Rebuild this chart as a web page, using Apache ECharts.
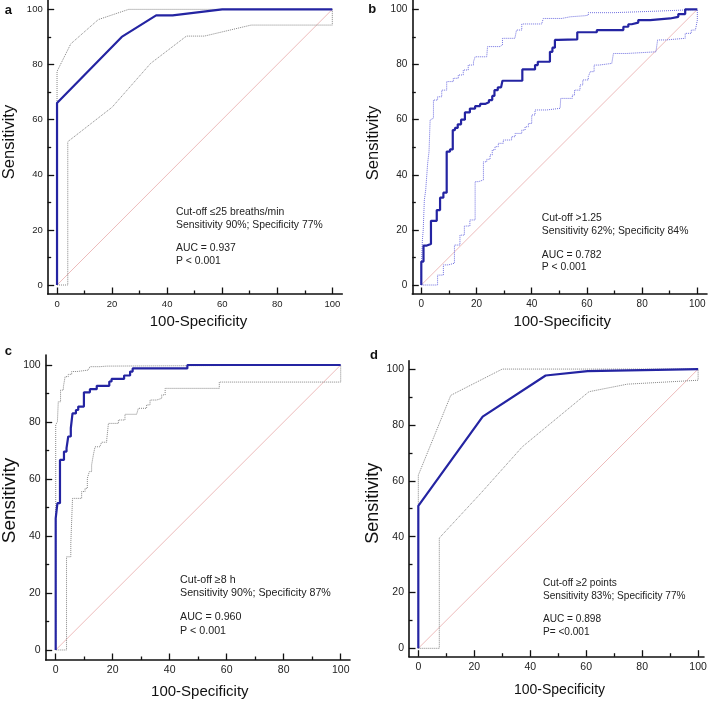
<!DOCTYPE html>
<html>
<head>
<meta charset="utf-8">
<script src="https://cdn.jsdelivr.net/npm/echarts@6/dist/echarts.min.js"></script>
<style>html,body{margin:0;padding:0;background:#fff}#chart{width:708px;height:701px}</style>
</head>
<body>
<div id="chart"></div>
<script>
// ---------- data (x = 100-Specificity, y = Sensitivity) ----------
var majorTicks = [0, 20, 40, 60, 80, 100];
var minorTicks = [10, 30, 50, 70, 90];
var diagonal = [[0, 0], [100, 100]];

// panel a (polyline)
var aRoc   = [[0,0],[0,66],[23.5,90],[36,97.8],[42,97.8],[60,100],[100,100]];
var aUpper = [[0,0],[0,77.5],[5,87.5],[15,96.3],[26,100],[100,100]];
var aLower = [[0,0],[3.9,0],[3.9,52],[20,64.5],[34,80.4],[47,90.3],[53.5,90.3],[70.5,94.3],[100,94.3],[100,100]];

// panel b (step vertices: horizontal then vertical)
var bRoc = [[0,0],[0,8.5],[0.8,14.3],[2,14.9],[3.5,23.3],[5.6,27.2],[6.8,31.7],[8,33.5],[9.2,48.4],[10.4,49.2],
  [11.4,56.2],[12.2,57],[13.2,58.3],[14.4,60],[15.8,62.6],[17.6,64],[19.5,64.9],[21.3,65.7],[23.1,66.3],[24.5,67.1],
  [25.7,68.6],[26.5,70.7],[27.7,71.7],[28.9,72.2],[29.4,74.1],[36.6,78.2],[41.2,79.8],[42.2,81],[46.6,84.6],[47.5,86.1],
  [48.4,88.9],[49.6,89.1],[56.5,91.7],[63.6,92.5],[73.2,93.7],[75,94.6],[76.2,95.2],[78.6,96.1],[82.9,96.7],[90.1,97.3],
  [93.1,98.3],[95.6,100],[100,100]];
var bUpper = [[0,0],[0.1,9],[0.4,16.3],[0.7,20],[1.1,30.8],[1.6,34.5],[2.3,44.1],[2.8,48.4],[3.2,59.9],[3.5,60.5],
  [4.4,67.1],[5.9,68.3],[7.4,70.7],[9.2,73.8],[11.6,75],[13.4,76.2],[15.2,78],[17,79.8],[18.9,81],[19.5,82.8],
  [23.7,83.4],[24,86.5],[28.5,87.1],[29.4,89.5],[33.9,90.1],[34.5,92.5],[36.4,94.7],[43.6,94.9],[44.2,96.7],[50.9,97.3],
  [53.9,97.7],[59.3,97.9],[60.5,98.8],[68.4,98.8],[69.6,99.4],[86.5,99.8],[96.1,100],[100,100]];
var bLower = [[0,0],[5.9,3.6],[8,7.3],[9.8,7.9],[12,14.5],[14,18.1],[15.6,21.4],[17.6,23.6],[19.5,37.5],[20.7,38.1],
  [22.5,44.7],[23.7,45.6],[24.9,47.2],[25.7,49],[26.7,50.2],[27.9,51.4],[29.7,52.6],[32.7,53.8],[34,55],[36.4,56.2],
  [37.6,57.4],[38.8,58.6],[40,61.7],[41.2,63.5],[45.4,64.1],[50.3,64.7],[50.5,67.7],[54.7,68.9],[55.5,70.7],[57.5,72.6],
  [58.5,74.4],[60.5,75.6],[61.2,77.4],[62.6,79.8],[64.5,80.4],[69,81],[69.6,84],[74.5,84.6],[85,85.2],[85.6,88.9],
  [88.5,89.5],[95.6,91.3],[97.8,92.5],[99.3,93.1],[100,96.1],[100,100]];

// panel c (step vertices)
var cRoc = [[0,0],[0,46.2],[0.6,51.5],[1.5,66.7],[2.9,69.6],[3.8,70.8],[4.4,74.9],[5.3,77.8],[5.9,83],[7.1,84.2],
  [7.9,85.4],[9.9,90.4],[12,91.5],[14.4,92.7],[18.8,94.2],[19.6,95.1],[24,96.3],[26.1,97.7],[27,98.8],[46.2,100],[100,100]];
var cUpper = [[0,0],[0,79],[0.6,80.1],[0.9,87.1],[1.7,91.2],[2.7,92.4],[3.3,95.9],[4.4,96.7],[5.6,97.7],[7.4,98.2],
  [11.4,98.6],[12,99.4],[15.5,99.6],[17.9,100],[100,100]];
var cLower = [[0,0],[3.8,32.7],[5.3,37.4],[5.9,53.2],[9.1,55.6],[10.3,56.7],[11.1,60.2],[11.8,62.6],[12.6,64.9],[13.2,68.4],
  [13.8,71.3],[15.5,71.9],[16.1,72.9],[17.9,73.7],[18.5,79.5],[22,80.7],[24.3,82.7],[28.4,83],[29,84.8],[31.9,86],
  [33.1,87.7],[35.4,88.3],[37.2,89.5],[38.4,91.8],[57.4,94],[100,94],[100,100]];

// panel d (polyline)
var dRoc   = [[0,0],[0,51],[23,83],[45.5,97.7],[60.5,99.3],[100,100]];
var dUpper = [[0,0],[0,62],[11.6,90.6],[30,100],[100,100]];
var dLower = [[0,0],[7.5,0],[7.5,39.5],[22.3,55.5],[37.2,72.2],[61,91.9],[74.7,94.6],[100,96],[100,100]];

var letters = ['a', 'b', 'c', 'd'];
var notes = [
  ['Cut-off \u226425 breaths/min', 'Sensitivity 90%; Specificity 77%', 'AUC = 0.937', 'P < 0.001'],
  ['Cut-off >1.25', 'Sensitivity 62%; Specificity 84%', 'AUC = 0.782', 'P < 0.001'],
  ['Cut-off \u22658 h', 'Sensitivity 90%; Specificity 87%', 'AUC = 0.960', 'P < 0.001'],
  ['Cut-off \u22652 points', 'Sensitivity 83%; Specificity 77%', 'AUC = 0.898', 'P= <0.001']
];
var xTitle = '100-Specificity';
var yTitle = 'Sensitivity';

// ---------- layout / style ----------
var FONT = '"Liberation Sans", Arial, sans-serif';
var panels = [
  {roc: aRoc, up: aUpper, lo: aLower, step: false, ci: '#858585',
   left: 47.7, top: 0, width: 294.6, height: 294, xMin: -3.39, xMax: 103.63, yMin: -3.26, yMax: 103.4,
   tickFs: 9.5, xNameFs: 15, yNameFs: 16.5, xGap: 20, yGap: 30, xPad: 7, yPad: 10,
   letter: [8.3, 10], noteX: 176, noteY: [212.3, 225, 248.3, 261], noteFs: 10.4},
  {roc: bRoc, up: bUpper, lo: bLower, step: 'end', ci: '#6f6fe0',
   left: 412.3, top: 0, width: 294.7, height: 294, xMin: -3.26, xMax: 103.5, yMin: -3.26, yMax: 103.4,
   tickFs: 10, xNameFs: 15, yNameFs: 16.5, xGap: 20, yGap: 30, xPad: 5, yPad: 8,
   letter: [372.3, 9.3], noteX: 541.7, noteY: [218.3, 230.7, 255, 267.3], noteFs: 10.4},
  {roc: cRoc, up: cUpper, lo: cLower, step: 'end', ci: '#858585',
   left: 45.7, top: 355, width: 304.3, height: 305, xMin: -3.51, xMax: 103.26, yMin: -3.51, yMax: 103.5,
   tickFs: 10.5, xNameFs: 15, yNameFs: 19, xGap: 24, yGap: 26, xPad: 4, yPad: 14,
   letter: [8.3, 351.7], noteX: 180, noteY: [580, 593.3, 617.3, 630.7], noteFs: 10.7},
  {roc: dRoc, up: dUpper, lo: dLower, step: false, ci: '#858585',
   left: 409, top: 360.7, width: 295, height: 296, xMin: -3.33, xMax: 102.1, yMin: -3.0, yMax: 103.0,
   tickFs: 10.5, xNameFs: 14, yNameFs: 18, xGap: 26, yGap: 27, xPad: 6, yPad: 11,
   letter: [374, 355], noteX: 543, noteY: [583.3, 596, 619.3, 632], noteFs: 10.1}
];

var grids = [], xAxes = [], yAxes = [], series = [], graphics = [];
var TICK_STYLE = {color: '#111', width: 1.3};

function tickAxis(i, min, max, pos, values, len) {
  return {
    type: 'value', gridIndex: i, min: min, max: max, position: pos,
    axisLine: {show: false, onZero: false}, axisLabel: {show: false}, splitLine: {show: false},
    axisTick: {show: true, inside: true, length: len, customValues: values, lineStyle: TICK_STYLE}
  };
}

panels.forEach(function (p, i) {
  grids.push({left: p.left, top: p.top, width: p.width, height: p.height, containLabel: false, outerBoundsMode: 'none'});
  var mainX = {
    type: 'value', gridIndex: i, min: p.xMin, max: p.xMax, position: 'bottom',
    name: xTitle, nameLocation: 'middle', nameGap: p.xGap,
    nameTextStyle: {fontFamily: FONT, fontSize: p.xNameFs, color: '#111', padding: [0, 0, 0, p.xPad]},
    axisLine: {show: true, onZero: false, lineStyle: {color: '#111', width: 1.6}},
    axisTick: {show: false},
    axisLabel: {show: true, customValues: majorTicks, margin: 5, fontFamily: FONT, fontSize: p.tickFs, color: '#222'},
    splitLine: {show: false}
  };
  var mainY = {
    type: 'value', gridIndex: i, min: p.yMin, max: p.yMax, position: 'left',
    name: yTitle, nameLocation: 'middle', nameGap: p.yGap,
    nameTextStyle: {fontFamily: FONT, fontSize: p.yNameFs, color: '#111', padding: [0, 0, 0, p.yPad]},
    axisLine: {show: true, onZero: false, lineStyle: {color: '#111', width: 1.6}},
    axisTick: {show: false},
    axisLabel: {show: true, customValues: majorTicks, margin: 5, fontFamily: FONT, fontSize: p.tickFs, color: '#222'},
    splitLine: {show: false}
  };
  var xi = xAxes.length, yi = yAxes.length;
  xAxes.push(mainX,
    tickAxis(i, p.xMin, p.xMax, 'bottom', majorTicks, 6.5),
    tickAxis(i, p.xMin, p.xMax, 'bottom', minorTicks, 3.5));
  yAxes.push(mainY,
    tickAxis(i, p.yMin, p.yMax, 'left', majorTicks, 6.5),
    tickAxis(i, p.yMin, p.yMax, 'left', minorTicks, 3.5));
  function line(data, color, width, type, step, z) {
    return {type: 'line', xAxisIndex: xi, yAxisIndex: yi, data: data, step: step || false,
      showSymbol: false, symbol: 'none', silent: true, animation: false, clip: false, z: z,
      lineStyle: {color: color, width: width, type: type}};
  }
  series.push(line(diagonal, '#ebb3b3', 0.9, 'solid', false, 2));
  series.push(line(p.lo, p.ci, 1, 'dotted', p.step, 3));
  series.push(line(p.up, p.ci, 1, 'dotted', p.step, 3));
  series.push(line(p.roc, '#2424a2', 2.2, 'solid', p.step, 4));

  graphics.push({type: 'text', x: p.letter[0], y: p.letter[1],
    style: {text: letters[i], font: 'bold 13px ' + FONT, fill: '#111', align: 'center', verticalAlign: 'middle'}});
  notes[i].forEach(function (t, k) {
    graphics.push({type: 'text', x: p.noteX, y: p.noteY[k],
      style: {text: t, font: p.noteFs + 'px ' + FONT, fill: '#222', align: 'left', verticalAlign: 'middle'}});
  });
});

var chart = echarts.init(document.getElementById('chart'), null, {renderer: 'canvas'});
chart.setOption({
  animation: false,
  backgroundColor: '#fff',
  grid: grids,
  xAxis: xAxes,
  yAxis: yAxes,
  series: series,
  graphic: graphics
});
</script>
</body>
</html>
